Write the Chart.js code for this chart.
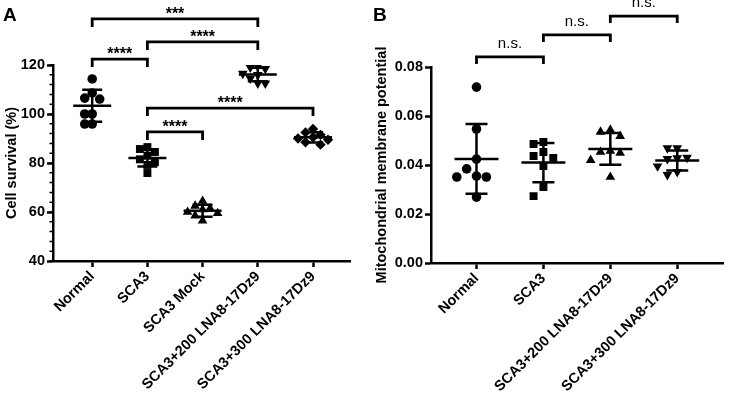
<!DOCTYPE html>
<html>
<head>
<meta charset="utf-8">
<script src="https://cdn.jsdelivr.net/npm/chart.js@4"></script>
<style>
  html, body { margin: 0; padding: 0; background: #fff; }
  #wrapA { position: absolute; left: 0; top: 0; width: 364px; height: 398px; }
  #wrapB { position: absolute; left: 364px; top: 0; width: 365px; height: 398px; }
</style>
</head>
<body>
<div id="wrapA"><canvas id="chartA"></canvas></div>
<div id="wrapB"><canvas id="chartB"></canvas></div>
<script>
// Panel A - cell survival (%)
const groupsA = ['Normal', 'SCA3', 'SCA3 Mock', 'SCA3+200 LNA8-17Dz9', 'SCA3+300 LNA8-17Dz9'];
const normalA = [114.3, 108.6, 106.5, 106.1, 100.0, 100.0, 95.9, 95.9];
const sca3A = [86.5, 85.7, 84.5, 83.0, 81.5, 80.4, 79.2, 75.9];
const mockA = [64.5, 62.5, 61.5, 61.0, 60.0, 59.5, 58.5, 56.5];
const lna200A = [119.5, 119.0, 118.5, 116.5, 116.0, 114.5, 112.5, 112.5];
const lna300A = [93.9, 92.5, 91.5, 90.5, 90.0, 89.5, 88.5, 87.5];
const ticksA = [40, 60, 80, 100, 120];
const sigA = [
  { from: 0, to: 3, level: 138.8, label: '***' },
  { from: 1, to: 3, level: 129.4, label: '****' },
  { from: 0, to: 1, level: 122.4, label: '****' },
  { from: 1, to: 4, level: 102.4, label: '****' },
  { from: 1, to: 2, level: 92.7, label: '****' }
];

// Panel B - mitochondrial membrane potential
const groupsB = ['Normal', 'SCA3', 'SCA3+200 LNA8-17Dz9', 'SCA3+300 LNA8-17Dz9'];
const normalB = [0.0718, 0.0547, 0.0424, 0.0384, 0.0355, 0.0351, 0.0351, 0.0269];
const sca3B = [0.0494, 0.0486, 0.0453, 0.0437, 0.0429, 0.0396, 0.0310, 0.0273];
const lna200B = [0.0543, 0.0535, 0.0518, 0.0457, 0.0453, 0.0449, 0.0420, 0.0351];
const lna300B = [0.0469, 0.0469, 0.0430, 0.0428, 0.0425, 0.0395, 0.0372, 0.0360];
const ticksB = [0, 0.02, 0.04, 0.06, 0.08];
const sigB = [
  { from: 0, to: 1, level: 0.0841, label: 'n.s.' },
  { from: 1, to: 2, level: 0.0931, label: 'n.s.' },
  { from: 2, to: 3, level: 0.1008, label: 'n.s.' }
];

const FONT = '"Liberation Sans", Arial, sans-serif';

function meanSd(vals) {
  const m = vals.reduce((a, b) => a + b, 0) / vals.length;
  const v = vals.reduce((a, b) => a + (b - m) * (b - m), 0) / (vals.length - 1);
  return { mean: m, sd: Math.sqrt(v) };
}

// simple beeswarm: spread points that would overlap
function swarm(vals, pxPerY, pxPerX, size) {
  const order = vals.map((v, i) => i).sort((a, b) => vals[b] - vals[a]);
  const placed = [];
  const xs = new Array(vals.length);
  for (const i of order) {
    for (let k = 0; k < 20; k++) {
      const off = k === 0 ? 0 : (k % 2 ? -(k + 1) / 2 : k / 2);
      const px = off * size;
      const ok = placed.every(p => Math.hypot(p.x - px, (p.y - vals[i]) * pxPerY) >= size);
      if (ok) { placed.push({ x: px, y: vals[i] }); xs[i] = px / pxPerX; break; }
    }
  }
  return xs;
}

const statsPlugin = {
  id: 'stats',
  afterDatasetsDraw(chart, args, opts) {
    const ctx = chart.ctx;
    const xs = chart.scales.x, ys = chart.scales.y;
    ctx.save();
    ctx.strokeStyle = '#000';
    ctx.fillStyle = '#000';
    ctx.lineWidth = 2.5;
    ctx.lineCap = 'butt';
    opts.series.forEach((vals, i) => {
      const s = meanSd(vals);
      const cx = xs.getPixelForValue(i);
      const yM = ys.getPixelForValue(s.mean);
      const yT = ys.getPixelForValue(s.mean + s.sd);
      const yB = ys.getPixelForValue(s.mean - s.sd);
      ctx.beginPath();
      ctx.moveTo(cx - opts.meanHalf, yM); ctx.lineTo(cx + opts.meanHalf, yM);
      ctx.moveTo(cx - opts.capHalf, yT); ctx.lineTo(cx + opts.capHalf, yT);
      ctx.moveTo(cx - opts.capHalf, yB); ctx.lineTo(cx + opts.capHalf, yB);
      ctx.moveTo(cx, yT); ctx.lineTo(cx, yB);
      ctx.stroke();
    });
    // significance brackets
    ctx.lineWidth = 2.8;
    ctx.lineJoin = 'miter';
    opts.sig.forEach(b => {
      const x1 = xs.getPixelForValue(b.from);
      const x2 = xs.getPixelForValue(b.to);
      const y = ys.getPixelForValue(b.level);
      ctx.beginPath();
      ctx.moveTo(x1, y + opts.tip); ctx.lineTo(x1, y); ctx.lineTo(x2, y); ctx.lineTo(x2, y + opts.tip);
      ctx.stroke();
      ctx.font = opts.sigFont;
      ctx.textAlign = 'center';
      ctx.textBaseline = 'alphabetic';
      ctx.fillText(b.label, (x1 + x2) / 2, y + opts.textDy);
    });
    // minor ticks
    if (opts.minorStep) {
      ctx.lineWidth = 1.5;
      ctx.beginPath();
      for (let v = ys.min; v <= ys.max + 1e-9; v += opts.minorStep) {
        const y = ys.getPixelForValue(v);
        ctx.moveTo(chart.chartArea.left, y); ctx.lineTo(chart.chartArea.left - 3.5, y);
      }
      ctx.stroke();
    }
    // panel letter
    ctx.font = 'bold 19px ' + FONT;
    ctx.textAlign = 'left';
    ctx.fillText(opts.letter, opts.letterX, 21);
    ctx.restore();
  }
};

function makeChart(id, cfg) {
  const styles = cfg.styles;
  const datasets = cfg.series.map((vals, i) => {
    const off = swarm(vals, cfg.pxPerY, cfg.pxPerX, cfg.swarmSize);
    return {
      data: vals.map((v, j) => ({ x: i + off[j], y: v })),
      pointStyle: styles[i].style,
      rotation: styles[i].rot || 0,
      radius: styles[i].r,
      backgroundColor: '#000',
      borderColor: '#000',
      borderWidth: 0
    };
  });
  const tickFont = { family: FONT, size: 14.5, weight: 'bold' };
  return new Chart(document.getElementById(id), {
    type: 'scatter',
    data: { datasets },
    options: {
      responsive: true,
      maintainAspectRatio: false,
      animation: false,
      layout: { padding: cfg.padding },
      plugins: {
        legend: { display: false },
        tooltip: { enabled: false },
        stats: {
          series: cfg.series, sig: cfg.sig, meanHalf: cfg.meanHalf, capHalf: cfg.capHalf,
          tip: cfg.tip, sigFont: cfg.sigFont, textDy: cfg.textDy, minorStep: cfg.minorStep,
          letter: cfg.letter, letterX: cfg.letterX
        }
      },
      scales: {
        x: {
          type: 'linear',
          min: cfg.xMin, max: cfg.xMax,
          afterBuildTicks: s => { s.ticks = cfg.groups.map((g, i) => ({ value: i })); },
          afterFit: s => { s.height = cfg.xHeight; },
          ticks: {
            callback: v => cfg.groups[v],
            autoSkip: false, minRotation: 45, maxRotation: 45,
            color: '#000', font: tickFont, padding: 1
          },
          grid: { drawOnChartArea: false, tickLength: 6, tickWidth: 2.5, tickColor: '#000' },
          border: { display: true, width: 2.5, color: '#000' }
        },
        y: {
          min: cfg.yMin, max: cfg.yMax,
          afterBuildTicks: s => { s.ticks = cfg.yTicks.map(v => ({ value: v })); },
          afterFit: s => { s.width = cfg.yWidth; },
          ticks: {
            callback: cfg.yFormat,
            color: '#000', font: tickFont, padding: 2
          },
          title: {
            display: true, text: cfg.yTitle, color: '#000',
            font: { family: FONT, size: 14.5, weight: 'bold' }, padding: { top: 3, bottom: 2 }
          },
          grid: { drawOnChartArea: false, tickLength: 6, tickWidth: 2.5, tickColor: '#000' },
          border: { display: true, width: 2.5, color: '#000' }
        }
      }
    },
    plugins: [statsPlugin]
  });
}

makeChart('chartA', {
  groups: groupsA,
  series: [normalA, sca3A, mockA, lna200A, lna300A],
  styles: [
    { style: 'circle', r: 4.8 },
    { style: 'rect', r: 5.6 },
    { style: 'triangle', r: 5.6 },
    { style: 'triangle', r: 5.6, rot: 180 },
    { style: 'rectRot', r: 5.2 }
  ],
  sig: sigA, tip: 8, sigFont: 'bold 16px ' + FONT, textDy: 0,
  meanHalf: 19, capHalf: 10, minorStep: 4,
  pxPerY: 2.45, pxPerX: 55.25, swarmSize: 7.5,
  xMin: -0.71, xMax: 4.67, yMin: 40, yMax: 120, yTicks: ticksA,
  yFormat: v => String(v),
  yTitle: 'Cell survival (%)',
  padding: { top: 65, right: 14, left: 0, bottom: 0 },
  xHeight: 137, yWidth: 53,
  letter: 'A', letterX: 3
});

makeChart('chartB', {
  groups: groupsB,
  series: [normalB, sca3B, lna200B, lna300B],
  styles: [
    { style: 'circle', r: 4.8 },
    { style: 'rect', r: 5.6 },
    { style: 'triangle', r: 5.6 },
    { style: 'triangle', r: 5.6, rot: 180 }
  ],
  sig: sigB, tip: 7, sigFont: '15px ' + FONT, textDy: -9,
  meanHalf: 22, capHalf: 11, minorStep: 0,
  pxPerY: 2450, pxPerX: 68, swarmSize: 10,
  xMin: -0.68, xMax: 3.69, yMin: 0, yMax: 0.08, yTicks: ticksB,
  yFormat: v => v.toFixed(2),
  yTitle: 'Mitochondrial membrane potential',
  padding: { top: 67, right: 2, left: 6, bottom: 0 },
  xHeight: 135, yWidth: 61,
  letter: 'B', letterX: 9
});
</script>
</body>
</html>
